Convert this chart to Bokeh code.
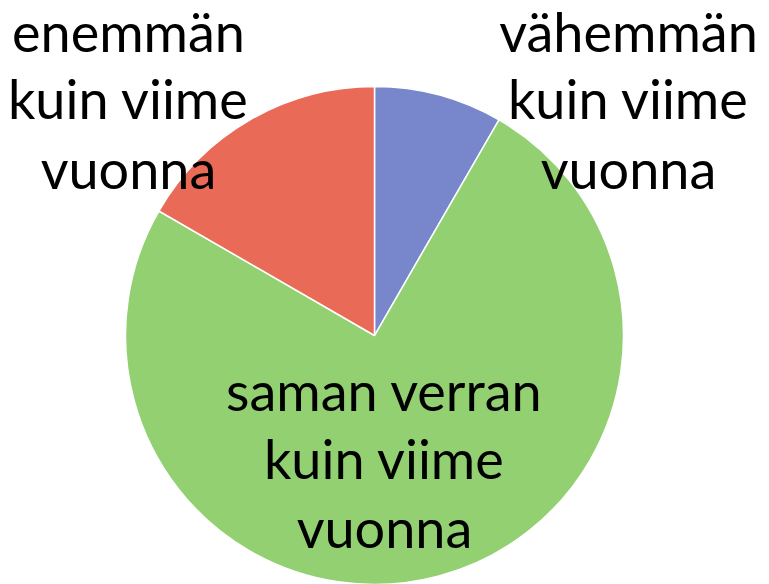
import math
from bokeh.plotting import figure
from bokeh.models import Range1d, ColumnDataSource
from bokeh.core.properties import value
from bokeh.embed import file_html
from bokeh.resources import INLINE

categories = ["vähemmän kuin viime vuonna", "saman verran kuin viime vuonna", "enemmän kuin viime vuonna"]
counts = [1, 9, 2]
colors = ["#7887CC", "#92D071", "#EA6A58"]

total = sum(counts)
starts, ends = [], []
acc = 0.0
for c in counts:
    a0 = math.pi / 2 - 2 * math.pi * acc / total
    acc += c
    a1 = math.pi / 2 - 2 * math.pi * acc / total
    starts.append(a0)
    ends.append(a1)

src = ColumnDataSource(dict(cat=categories, start=starts, end=ends, color=colors))

W, H = 769, 584
p = figure(width=W, height=H, output_backend="svg", toolbar_location=None,
           x_range=Range1d(0, W), y_range=Range1d(-H, 0),
           min_border=0, outline_line_color=None)
p.axis.visible = False
p.grid.visible = False

cx, cy, r = 374, -335, 249
p.wedge(x=cx, y=cy, radius=r, start_angle="start", end_angle="end", direction="clock",
        fill_color="color", line_color="white", line_width=1.5, source=src)

font = value("Lato")
fs = "54px"
labels = [
    (["vähemmän", "kuin viime", "vuonna"], 628, [31, 98, 168]),
    (["saman verran", "kuin viime", "vuonna"], 384, [390, 458, 527]),
    (["enemmän", "kuin viime", "vuonna"], 128, [31, 98, 168]),
]
for lines, x, ys in labels:
    p.text(x=[x] * len(lines), y=[-y for y in ys], text=lines, text_font=font,
           text_font_size=fs, text_align="center", text_baseline="middle",
           text_color="black")

open("out.html", "w").write(file_html(p, INLINE))
